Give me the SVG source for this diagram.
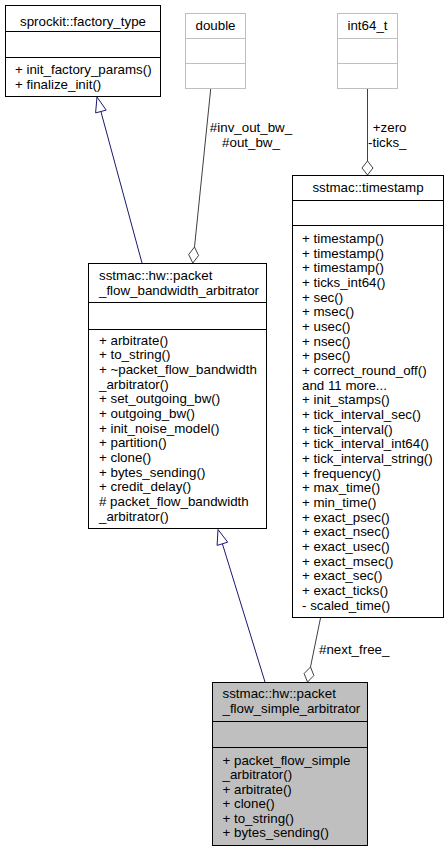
<svg xmlns="http://www.w3.org/2000/svg" width="448" height="852" viewBox="0 0 448 852">
<style>
text{font-family:"Liberation Sans",Arial,Helvetica,sans-serif;font-size:13.33px;fill:#000}
.c{text-anchor:middle}
.e{text-anchor:end}
.box{fill:#fff;stroke:#000;stroke-width:1}
.main{fill:#bfbfbf;stroke:#000;stroke-width:1}
.ext{fill:#fff;stroke:#bfbfbf;stroke-width:1}
.div{stroke:#000;stroke-width:1}
.divx{stroke:#bfbfbf;stroke-width:1}
.inh{fill:none;stroke:#191970;stroke-width:1}
.inhh{fill:#fff;stroke:#191970;stroke-width:1}
.agg{fill:none;stroke:#404040;stroke-width:1}
.aggh{fill:#fff;stroke:#404040;stroke-width:1}
</style>
<rect width="448" height="852" fill="#fff"/>
<g id="connectors">
  <path class="inh" d="M142,263 L100.9,111.5"/>
  <polygon class="inhh" points="97,97 106.2,110.1 95.6,112.9"/>
  <path class="agg" d="M210.7,89 L194.5,247"/>
  <polygon class="aggh" points="192.8,263 198.6,255.5 194.5,247 188.7,254.5"/>
  <text class="c" x="251" y="132">#inv_out_bw_</text>
  <text class="c" x="251" y="147">#out_bw_</text>
  <path class="agg" d="M367.5,89 L367.5,161"/>
  <polygon class="aggh" points="367.5,175 373,168 367.5,161 362,168"/>
  <text class="e" x="406.5" y="132">+zero</text>
  <text class="e" x="406.5" y="147">-ticks_</text>
  <path class="inh" d="M265,682 L222.4,543.8"/>
  <polygon class="inhh" points="218,529.5 227.7,542.2 217.1,545.4"/>
  <path class="agg" d="M320.5,618 L310.5,667"/>
  <polygon class="aggh" points="307.5,682 313.9,675.5 310.5,667 304.1,673.5"/>
  <text x="319" y="653.5">#next_free_</text>
</g>
<g id="sprockit_factory_type">
  <rect class="box" x="5.5" y="5.5" width="155" height="91"/>
  <line class="div" x1="5.5" y1="31.5" x2="160.5" y2="31.5"/>
  <line class="div" x1="5.5" y1="57.5" x2="160.5" y2="57.5"/>
  <text class="c" x="83" y="25.5">sprockit::factory_type</text>
  <text x="15" y="74">+ init_factory_params()</text>
  <text x="15" y="88.5">+ finalize_init()</text>
</g>
<g id="double">
  <rect class="ext" x="185.5" y="13.5" width="60" height="75"/>
  <line class="divx" x1="185.5" y1="38.5" x2="245.5" y2="38.5"/>
  <line class="divx" x1="185.5" y1="63.5" x2="245.5" y2="63.5"/>
  <text class="c" x="215.5" y="30">double</text>
</g>
<g id="int64_t">
  <rect class="ext" x="337.5" y="13.5" width="60" height="75"/>
  <line class="divx" x1="337.5" y1="38.5" x2="397.5" y2="38.5"/>
  <line class="divx" x1="337.5" y1="63.5" x2="397.5" y2="63.5"/>
  <text class="c" x="367.5" y="30">int64_t</text>
</g>
<g id="sstmac_timestamp">
  <rect class="box" x="292.5" y="175.5" width="151" height="442"/>
  <line class="div" x1="292.5" y1="200.5" x2="443.5" y2="200.5"/>
  <line class="div" x1="292.5" y1="225.5" x2="443.5" y2="225.5"/>
  <text class="c" x="368" y="191.5">sstmac::timestamp</text>
  <text x="302" y="243">+ timestamp()</text>
  <text x="302" y="257.67">+ timestamp()</text>
  <text x="302" y="272.33">+ timestamp()</text>
  <text x="302" y="287">+ ticks_int64()</text>
  <text x="302" y="301.67">+ sec()</text>
  <text x="302" y="316.33">+ msec()</text>
  <text x="302" y="331">+ usec()</text>
  <text x="302" y="345.67">+ nsec()</text>
  <text x="302" y="360.33">+ psec()</text>
  <text x="302" y="375">+ correct_round_off()</text>
  <text x="302" y="389.67">and 11 more...</text>
  <text x="302" y="404.33">+ init_stamps()</text>
  <text x="302" y="419">+ tick_interval_sec()</text>
  <text x="302" y="433.67">+ tick_interval()</text>
  <text x="302" y="448.33">+ tick_interval_int64()</text>
  <text x="302" y="463">+ tick_interval_string()</text>
  <text x="302" y="477.67">+ frequency()</text>
  <text x="302" y="492.33">+ max_time()</text>
  <text x="302" y="507">+ min_time()</text>
  <text x="302" y="521.67">+ exact_psec()</text>
  <text x="302" y="536.33">+ exact_nsec()</text>
  <text x="302" y="551">+ exact_usec()</text>
  <text x="302" y="565.67">+ exact_msec()</text>
  <text x="302" y="580.33">+ exact_sec()</text>
  <text x="302" y="595">+ exact_ticks()</text>
  <text x="302" y="609.67">- scaled_time()</text>
</g>
<g id="packet_flow_bandwidth_arbitrator">
  <rect class="box" x="88.5" y="263.5" width="178" height="265"/>
  <line class="div" x1="88.5" y1="302.5" x2="266.5" y2="302.5"/>
  <line class="div" x1="88.5" y1="329.5" x2="266.5" y2="329.5"/>
  <text x="99" y="279.5">sstmac::hw::packet</text>
  <text x="99" y="294.5">_flow_bandwidth_arbitrator</text>
  <text x="99" y="344.5">+ arbitrate()</text>
  <text x="99" y="359.17">+ to_string()</text>
  <text x="99" y="373.83">+ ~packet_flow_bandwidth</text>
  <text x="99" y="388.5">_arbitrator()</text>
  <text x="99" y="403.17">+ set_outgoing_bw()</text>
  <text x="99" y="417.83">+ outgoing_bw()</text>
  <text x="99" y="432.5">+ init_noise_model()</text>
  <text x="99" y="447.17">+ partition()</text>
  <text x="99" y="461.83">+ clone()</text>
  <text x="99" y="476.5">+ bytes_sending()</text>
  <text x="99" y="491.17">+ credit_delay()</text>
  <text x="99" y="505.83"># packet_flow_bandwidth</text>
  <text x="99" y="520.5">_arbitrator()</text>
</g>
<g id="packet_flow_simple_arbitrator">
  <rect class="main" x="212.5" y="682.5" width="155" height="163"/>
  <line class="div" x1="212.5" y1="721.5" x2="367.5" y2="721.5"/>
  <line class="div" x1="212.5" y1="747.5" x2="367.5" y2="747.5"/>
  <text x="222.5" y="697.5">sstmac::hw::packet</text>
  <text x="222.5" y="712.5">_flow_simple_arbitrator</text>
  <text x="222.5" y="764.5">+ packet_flow_simple</text>
  <text x="222.5" y="779">_arbitrator()</text>
  <text x="222.5" y="793.5">+ arbitrate()</text>
  <text x="222.5" y="808">+ clone()</text>
  <text x="222.5" y="822.5">+ to_string()</text>
  <text x="222.5" y="837">+ bytes_sending()</text>
</g>
</svg>
